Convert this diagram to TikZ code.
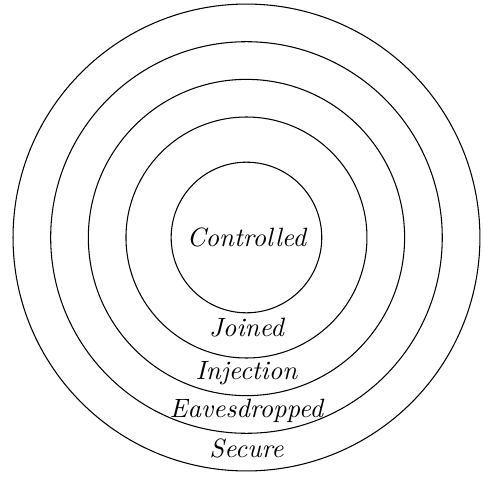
\documentclass[tikz,border=0pt]{standalone}
\usepackage{tikz}
\usetikzlibrary{positioning}

\begin{document}
\begin{tikzpicture}[
  ring/.style={draw, circle, inner sep=0pt},
  lbl/.style={font=\itshape}
]
\useasboundingbox (-3.273,-3.181) rectangle (3.141,3.154);
\node[ring, minimum size=6.2cm] (secure) at (0,0) {};
\node[ring, minimum size=5.2cm] (eaves)  at (0,0) {};
\node[ring, minimum size=4.2cm] (inj)    at (0,0) {};
\node[ring, minimum size=3.2cm] (join)   at (0,0) {};
\node[ring, minimum size=2cm]   (ctrl)   at (0,0) {};
\node[lbl] (lctrl) at (0, 0)    {Controlled};
\node[lbl] (ljoin) at (0,-1.2)  {Joined};
\node[lbl] (linj)  at (0,-1.8)  {Injection};
\node[lbl] (leav)  at (0,-2.3)  {Eavesdropped};
\node[lbl] (lsec)  at (0,-2.8)  {Secure};
\end{tikzpicture}
\end{document}
